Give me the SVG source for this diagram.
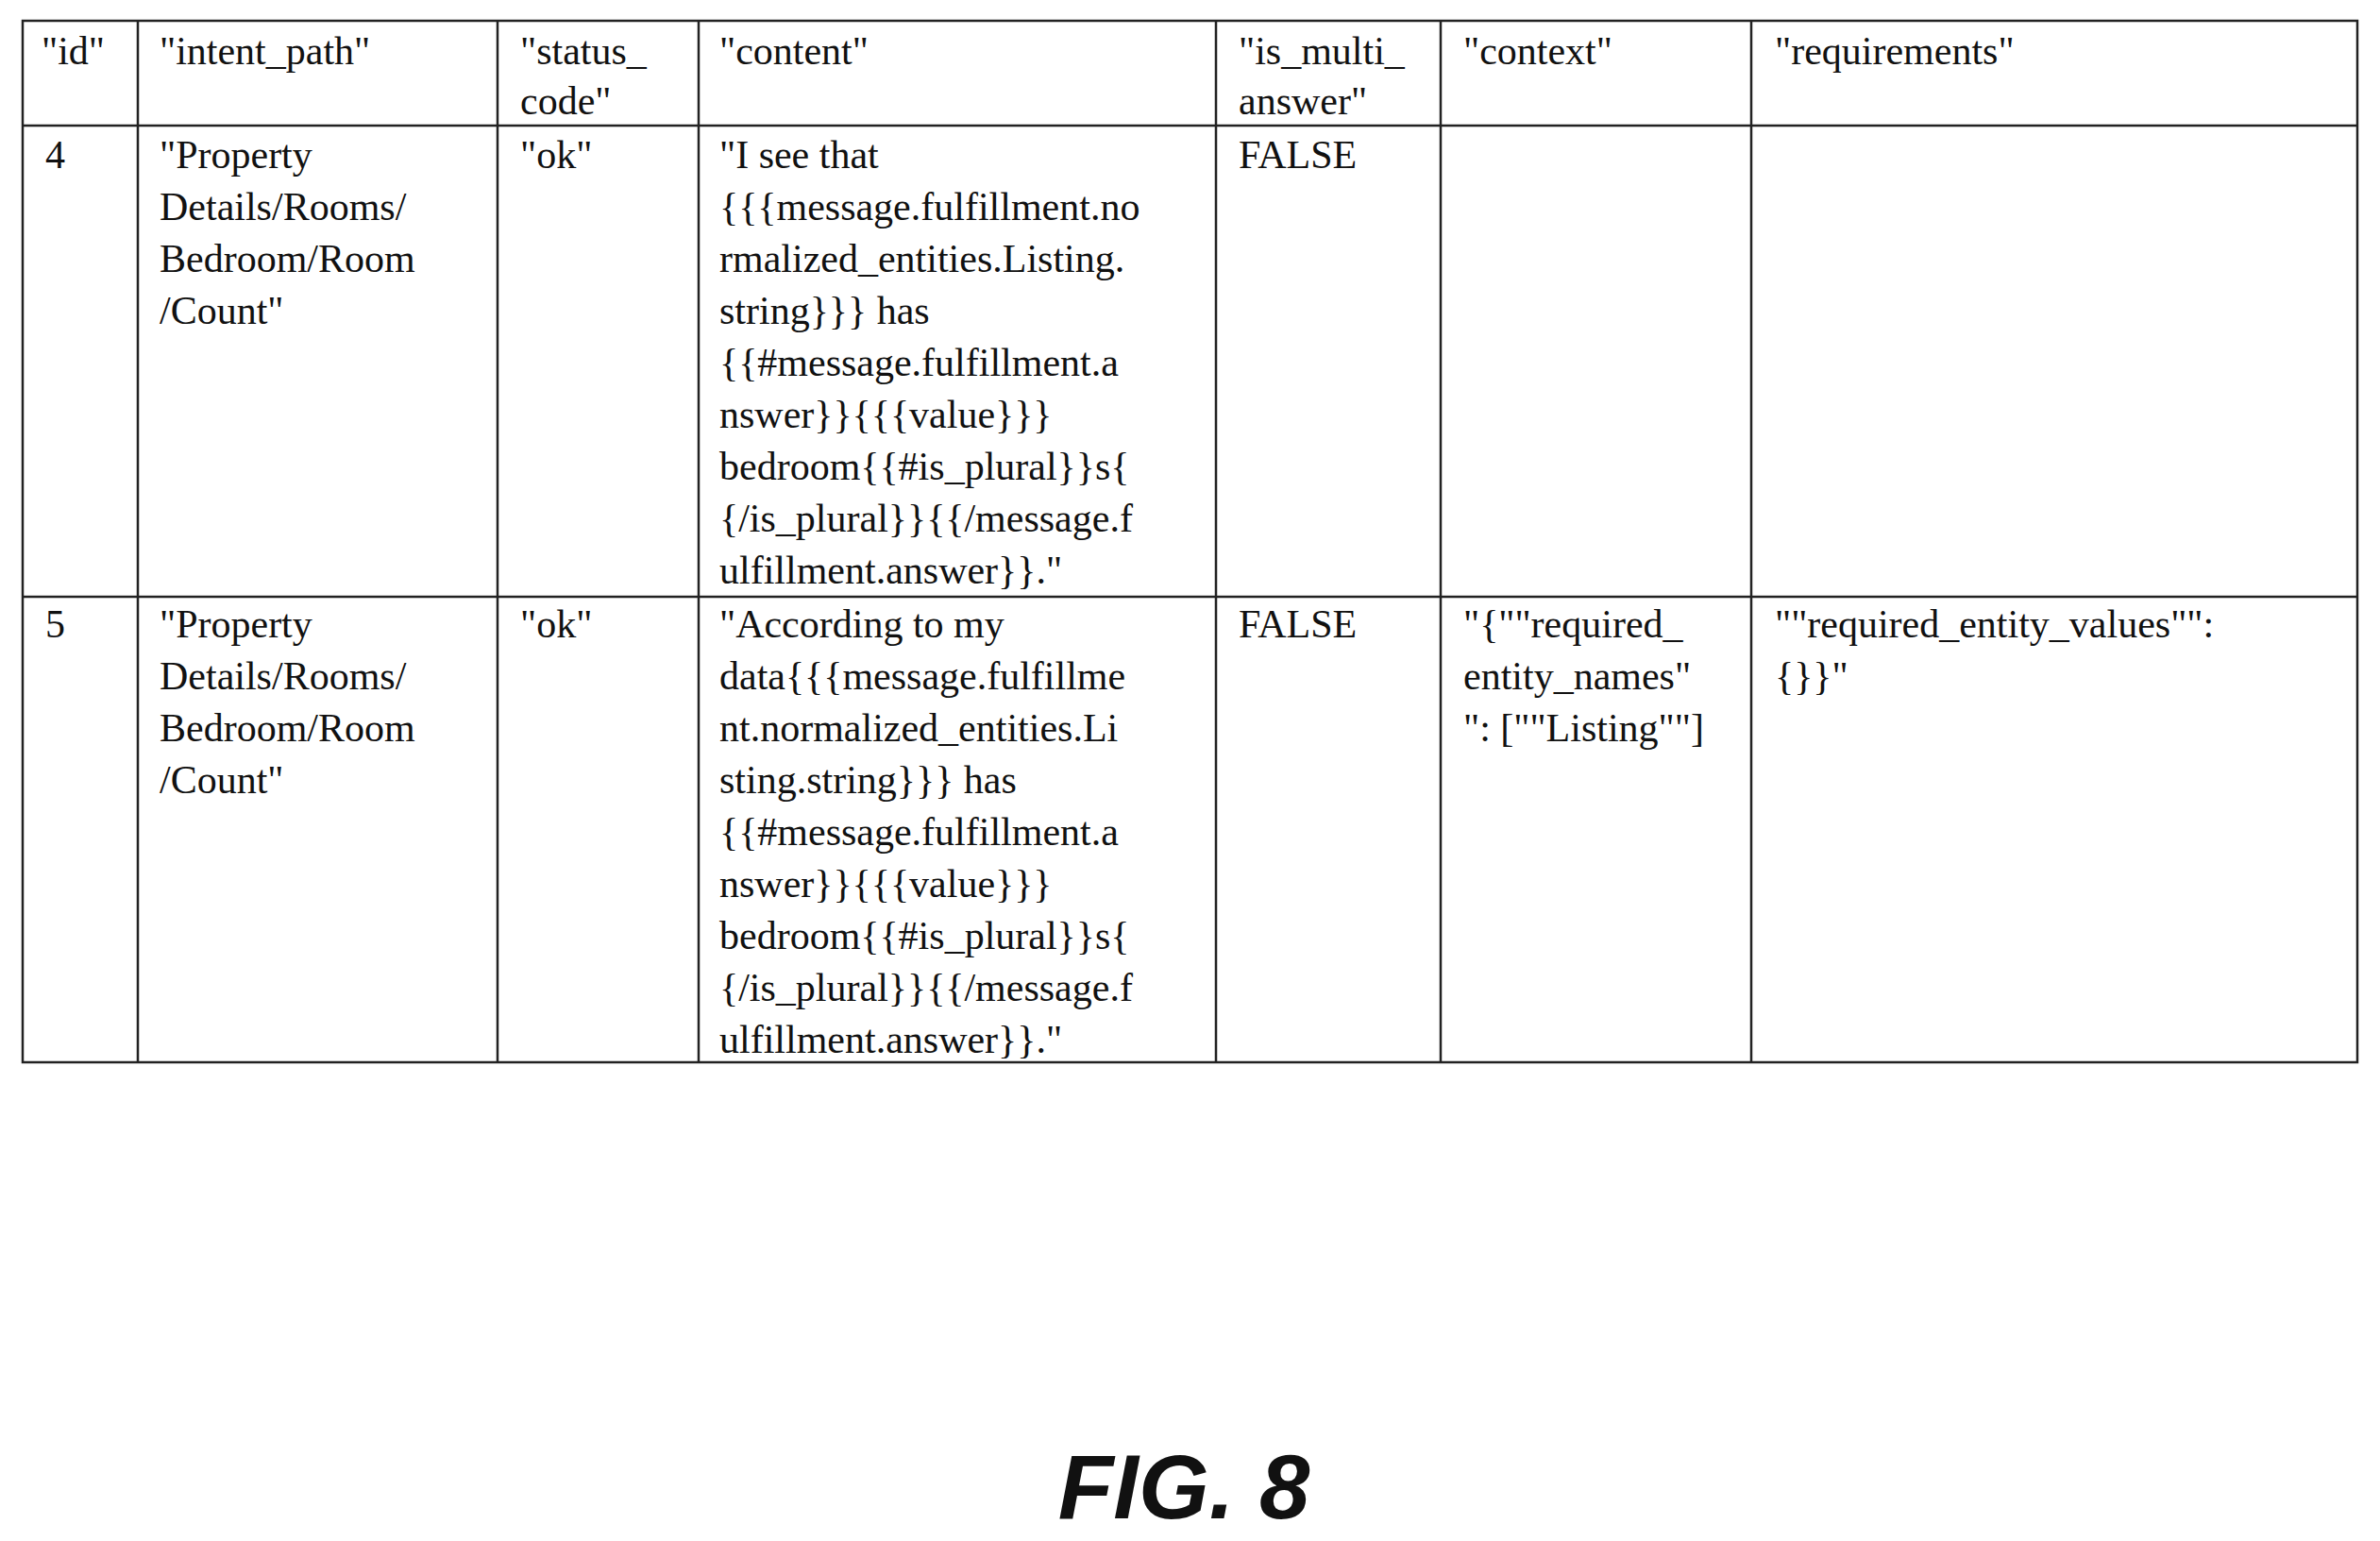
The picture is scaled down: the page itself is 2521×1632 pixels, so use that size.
<svg xmlns="http://www.w3.org/2000/svg" width="2521" height="1632" viewBox="0 0 2521 1632">
<style>
.t{font-family:"Liberation Serif",serif;font-size:42px;fill:#111}
.g{stroke:#222;stroke-width:2.5;fill:none}
.f{font-family:"Liberation Sans",sans-serif;font-size:96px;font-weight:bold;font-style:italic;fill:#111}
</style>
<rect width="2521" height="1632" fill="#fff"/>
<g id="table">
<rect class="g" x="24" y="22" width="2473" height="1103"/>
<path class="g" d="M24 133H2497M24 632H2497M146 22V1125M527 22V1125M740 22V1125M1288 22V1125M1526 22V1125M1855 22V1125"/>
</g>
<g id="header" class="t">
<text x="44" y="68">"id"</text>
<text x="169" y="68">"intent_path"</text>
<text x="551" y="68">"status_</text><text x="551" y="121">code"</text>
<text x="762" y="68">"content"</text>
<text x="1312" y="68">"is_multi_</text><text x="1312" y="121">answer"</text>
<text x="1550" y="68">"context"</text>
<text x="1880" y="68">"requirements"</text>
</g>
<g id="row4" class="t">
<text x="48" y="178">4</text>
<text x="169" y="178">"Property</text><text x="169" y="233">Details/Rooms/</text><text x="169" y="288">Bedroom/Room</text><text x="169" y="343">/Count"</text>
<text x="551" y="178">"ok"</text>
<text x="762" y="178">"I see that</text>
<text x="762" y="233">{{{message.fulfillment.no</text>
<text x="762" y="288">rmalized_entities.Listing.</text>
<text x="762" y="343">string}}} has</text>
<text x="762" y="398">{{#message.fulfillment.a</text>
<text x="762" y="453">nswer}}{{{value}}}</text>
<text x="762" y="508">bedroom{{#is_plural}}s{</text>
<text x="762" y="563">{/is_plural}}{{/message.f</text>
<text x="762" y="618">ulfillment.answer}}."</text>
<text x="1312" y="178">FALSE</text>
</g>
<g id="row5" class="t">
<text x="48" y="675">5</text>
<text x="169" y="675">"Property</text><text x="169" y="730">Details/Rooms/</text><text x="169" y="785">Bedroom/Room</text><text x="169" y="840">/Count"</text>
<text x="551" y="675">"ok"</text>
<text x="762" y="675">"According to my</text>
<text x="762" y="730">data{{{message.fulfillme</text>
<text x="762" y="785">nt.normalized_entities.Li</text>
<text x="762" y="840">sting.string}}} has</text>
<text x="762" y="895">{{#message.fulfillment.a</text>
<text x="762" y="950">nswer}}{{{value}}}</text>
<text x="762" y="1005">bedroom{{#is_plural}}s{</text>
<text x="762" y="1060">{/is_plural}}{{/message.f</text>
<text x="762" y="1115">ulfillment.answer}}."</text>
<text x="1312" y="675">FALSE</text>
<text x="1550" y="675">"{""required_</text>
<text x="1550" y="730">entity_names"</text>
<text x="1550" y="785">": [""Listing""]</text>
<text x="1880" y="675">""required_entity_values"":</text>
<text x="1880" y="730">{}}"</text>
</g>
<g id="caption"><text class="f" x="1254" y="1608" text-anchor="middle">FIG. 8</text></g>
</svg>
